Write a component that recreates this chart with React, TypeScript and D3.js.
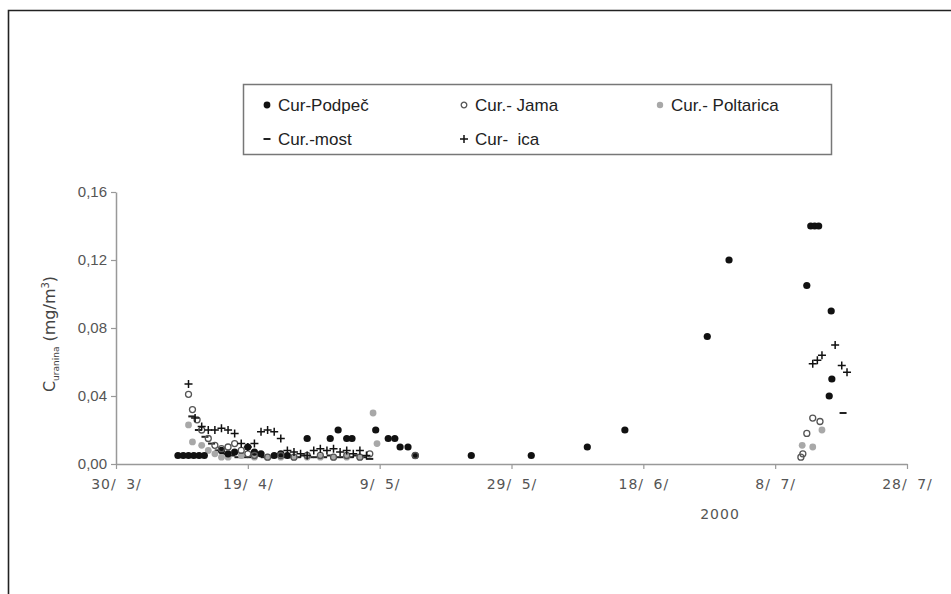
import { useEffect, useRef } from "react";
import * as d3 from "d3";

// dates are "MM-DD" (fractional day allowed), values in mg/m3
const podpecDates = ["04-08.4", "04-09.2", "04-10", "04-10.8", "04-11.6", "04-12.4", "04-15", "04-16", "04-17", "04-19", "04-20", "04-21", "04-23", "04-24", "04-25", "04-28", "05-01.5", "05-02.7", "05-04", "05-04.8", "05-08.4", "05-10.3", "05-11.3", "05-12.1", "05-13.3", "05-14.4", "05-22.9", "06-01", "06-09.5", "06-15.2", "06-27.7", "07-01", "07-12.8", "07-13.4", "07-14", "07-14.6", "07-16.2", "07-16.5", "07-16.6"];
const podpecValues = [0.005, 0.005, 0.005, 0.005, 0.005, 0.005, 0.008, 0.006, 0.007, 0.01, 0.007, 0.006, 0.005, 0.006, 0.005, 0.015, 0.015, 0.02, 0.015, 0.015, 0.02, 0.015, 0.015, 0.01, 0.01, 0.005, 0.005, 0.005, 0.01, 0.02, 0.075, 0.12, 0.105, 0.14, 0.14, 0.14, 0.04, 0.09, 0.05];

const jamaDates = ["04-10", "04-10.6", "04-11.3", "04-12", "04-13", "04-14", "04-15", "04-16", "04-17", "04-18", "04-19", "04-20", "04-22", "04-24", "04-26", "04-28", "04-30", "05-02", "05-04", "05-06", "05-07.5", "05-14.4", "07-11.9", "07-12.2", "07-12.8", "07-13.7", "07-14.8"];
const jamaValues = [0.041, 0.032, 0.026, 0.02, 0.015, 0.011, 0.009, 0.01, 0.012, 0.008, 0.006, 0.005, 0.004, 0.005, 0.004, 0.005, 0.005, 0.004, 0.005, 0.004, 0.006, 0.005, 0.004, 0.006, 0.018, 0.027, 0.025];

const poltaricaDates = ["04-10", "04-10.6", "04-12", "04-13", "04-14", "04-15", "04-16", "04-18", "04-20", "04-22", "04-24", "04-26", "04-28", "04-30", "05-02", "05-04", "05-06", "05-08", "05-08.6", "07-12.1", "07-13.7", "07-15.1"];
const poltaricaValues = [0.023, 0.013, 0.011, 0.008, 0.006, 0.004, 0.004, 0.005, 0.004, 0.004, 0.004, 0.004, 0.004, 0.004, 0.004, 0.004, 0.004, 0.03, 0.012, 0.011, 0.01, 0.02];

const mostDates = ["04-10.5", "04-11.5", "04-12.5", "04-13.5", "04-14.5", "04-15.5", "04-16.5", "04-17.5", "04-18.5", "04-19.5", "04-20.5", "04-21.5", "04-22.5", "04-23.5", "04-24.5", "04-25.5", "04-26.5", "04-27.5", "04-28.5", "04-29.5", "04-30.5", "05-01.5", "05-02.5", "05-03.5", "05-04.5", "05-05.5", "05-06.5", "05-07.5", "07-18.3"];
const mostValues = [0.028, 0.02, 0.016, 0.012, 0.008, 0.006, 0.005, 0.004, 0.004, 0.004, 0.005, 0.004, 0.004, 0.005, 0.004, 0.004, 0.004, 0.005, 0.004, 0.004, 0.004, 0.005, 0.004, 0.004, 0.004, 0.005, 0.004, 0.003, 0.03];

const icaDates = ["04-10", "04-11", "04-12", "04-13", "04-14", "04-15", "04-16", "04-17", "04-18", "04-19", "04-20", "04-21", "04-22", "04-23", "04-24", "04-25", "04-26", "04-27", "04-28", "04-29", "04-30", "05-01", "05-02", "05-03", "05-04", "05-05", "05-06", "05-07", "07-13.7", "07-14.4", "07-15.1", "07-17.1", "07-18.1", "07-18.9"];
const icaValues = [0.047, 0.027, 0.022, 0.02, 0.02, 0.021, 0.02, 0.018, 0.012, 0.01, 0.012, 0.019, 0.02, 0.019, 0.015, 0.008, 0.007, 0.006, 0.005, 0.008, 0.009, 0.008, 0.009, 0.007, 0.008, 0.006, 0.008, 0.005, 0.059, 0.061, 0.064, 0.07, 0.058, 0.054];

const xTickDates = ["03-30", "04-19", "05-09", "05-29", "06-18", "07-08", "07-28"];
const xTickLabels = ["30/ 3/", "19/ 4/", "9/ 5/", "29/ 5/", "18/ 6/", "8/ 7/", "28/ 7/"];
const yTicks = [0, 0.04, 0.08, 0.12, 0.16];

const parseDay = (s: string) => {
    const [m, d] = s.split("-");
    return new Date(new Date(2000, +m - 1, 1).getTime() + (parseFloat(d) - 1) * 864e5);
};

const FONT = "'Liberation Sans', Arial, sans-serif";
const WIDE = "'DejaVu Sans', Verdana, sans-serif";

export default function App() {
    const svgRef = useRef<SVGSVGElement | null>(null);

    useEffect(() => {
        const width = 951;
        const height = 594;
        const marginLeft = 116;
        const plotRight = 907;
        const plotTop = 192;
        const plotBottom = 464;

        const svg = d3.select(svgRef.current);
        svg.selectAll("*").remove();

        svg.append("rect").attr("width", width).attr("height", height).attr("fill", "#fff");

        // outer frame (only left and top edges are visible)
        svg.append("path")
            .attr("d", `M8.5,${height}V10.5H${width}`)
            .attr("fill", "none")
            .attr("stroke", "#222")
            .attr("stroke-width", 1.6);

        const x = d3.scaleTime()
            .domain([parseDay("03-30"), parseDay("07-28")])
            .range([marginLeft, plotRight]);

        const y = d3.scaleLinear()
            .domain([0, 0.16])
            .range([plotBottom, plotTop]);

        // y axis
        svg.append("g")
            .attr("transform", `translate(${marginLeft},0)`)
            .call(d3.axisLeft(y).tickValues(yTicks).tickSize(5).tickSizeOuter(0)
                .tickFormat(d => d3.format(".2f")(d as number).replace(".", ",")))
            .call(g => g.select(".domain").attr("stroke", "#999").attr("stroke-width", 1.5))
            .call(g => g.selectAll(".tick line").attr("stroke", "#999").attr("stroke-width", 1.2))
            .call(g => g.selectAll(".tick text")
                .attr("x", -9)
                .attr("fill", "#555")
                .style("font-family", FONT)
                .style("font-size", "15px"));

        // x axis
        svg.append("g")
            .attr("transform", `translate(0,${plotBottom})`)
            .call(d3.axisBottom(x).tickValues(xTickDates.map(parseDay)).tickSize(5).tickSizeOuter(0)
                .tickFormat((_, i) => xTickLabels[i]))
            .call(g => g.select(".domain").attr("stroke", "#999").attr("stroke-width", 1.5))
            .call(g => g.selectAll(".tick line").attr("stroke", "#999").attr("stroke-width", 1.2))
            .call(g => g.selectAll(".tick text")
                .attr("y", 15)
                .attr("fill", "#555")
                .style("font-family", WIDE)
                .style("font-size", "14px")
                .style("letter-spacing", "1px")
                .style("word-spacing", "4px"));

        svg.append("text")
            .attr("x", 720)
            .attr("y", 519)
            .attr("text-anchor", "middle")
            .attr("fill", "#555")
            .style("font-family", WIDE)
            .style("font-size", "14px")
            .style("letter-spacing", "1px")
            .text("2000");

        // y label: C_uranina (mg/m^3)
        const yl = svg.append("text")
            .attr("transform", "translate(55,334) rotate(-90)")
            .attr("text-anchor", "middle")
            .attr("fill", "#444")
            .style("font-family", WIDE)
            .style("font-size", "16px");
        yl.append("tspan").text("C");
        yl.append("tspan").attr("dy", 4).style("font-size", "9px").text("uranina");
        yl.append("tspan").attr("dy", -4).text(" (mg/m");
        yl.append("tspan").attr("dy", -6).style("font-size", "10px").text("3");
        yl.append("tspan").attr("dy", 6).text(")");

        const pts = (dates: string[], values: number[]) =>
            dates.map((d, i) => ({ date: parseDay(d), value: values[i] }));

        const plot = svg.append("g");

        // Cur.-most dashes
        plot.selectAll(".most")
            .data(pts(mostDates, mostValues))
            .enter()
            .append("rect")
            .attr("x", d => x(d.date) - 3.5)
            .attr("y", d => y(d.value) - 1)
            .attr("width", 7)
            .attr("height", 2)
            .attr("fill", "#222");

        // Cur.- Poltarica gray dots
        plot.selectAll(".polt")
            .data(pts(poltaricaDates, poltaricaValues))
            .enter()
            .append("circle")
            .attr("cx", d => x(d.date))
            .attr("cy", d => y(d.value))
            .attr("r", 3.4)
            .attr("fill", "#a8a8a8");

        // Cur-Podpeč black dots
        plot.selectAll(".podpec")
            .data(pts(podpecDates, podpecValues))
            .enter()
            .append("circle")
            .attr("cx", d => x(d.date))
            .attr("cy", d => y(d.value))
            .attr("r", 3.6)
            .attr("fill", "#111");

        // Cur.- Jama open circles
        plot.selectAll(".jama")
            .data(pts(jamaDates, jamaValues))
            .enter()
            .append("circle")
            .attr("cx", d => x(d.date))
            .attr("cy", d => y(d.value))
            .attr("r", 3)
            .attr("fill", "none")
            .attr("stroke", "#555")
            .attr("stroke-width", 1.3);

        // Cur- ica plus signs
        plot.selectAll(".ica")
            .data(pts(icaDates, icaValues))
            .enter()
            .append("path")
            .attr("transform", d => `translate(${x(d.date)},${y(d.value)})`)
            .attr("d", "M-4,0H4M0,-4V4")
            .attr("stroke", "#111")
            .attr("stroke-width", 1.5)
            .attr("fill", "none");

        // legend
        const lg = svg.append("g");
        lg.append("rect")
            .attr("x", 243.5).attr("y", 84.5)
            .attr("width", 588).attr("height", 70)
            .attr("fill", "#fff")
            .attr("stroke", "#777")
            .attr("stroke-width", 1.5);

        const legendItems = [
            { label: "Cur-Podpeč", kind: "podpec", lx: 267, ly: 105 },
            { label: "Cur.- Jama", kind: "jama", lx: 464, ly: 105 },
            { label: "Cur.- Poltarica", kind: "polt", lx: 660, ly: 105 },
            { label: "Cur.-most", kind: "most", lx: 267, ly: 139 },
            { label: "Cur-  ica", kind: "ica", lx: 464, ly: 139 },
        ];
        legendItems.forEach(it => {
            const g = lg.append("g").attr("transform", `translate(${it.lx},${it.ly})`);
            if (it.kind === "podpec") g.append("circle").attr("r", 3.4).attr("fill", "#111");
            if (it.kind === "polt") g.append("circle").attr("r", 3.2).attr("fill", "#a8a8a8");
            if (it.kind === "jama") g.append("circle").attr("r", 2.8).attr("fill", "none").attr("stroke", "#555").attr("stroke-width", 1.3);
            if (it.kind === "most") g.append("rect").attr("x", -3.5).attr("y", -1).attr("width", 7).attr("height", 2).attr("fill", "#222");
            if (it.kind === "ica") g.append("path").attr("d", "M-4,0H4M0,-4V4").attr("stroke", "#111").attr("stroke-width", 1.5);
            g.append("text")
                .attr("x", 11)
                .attr("y", 6)
                .attr("fill", "#222")
                .attr("xml:space", "preserve")
                .style("white-space", "pre")
                .style("font-family", FONT)
                .style("font-size", "17px")
                .text(it.label);
        });
    }, []);

    return (
        <div style={{ position: "absolute", left: 0, top: 0 }}>
            <svg ref={svgRef} width={951} height={594} style={{ display: "block" }} />
        </div>
    );
}
